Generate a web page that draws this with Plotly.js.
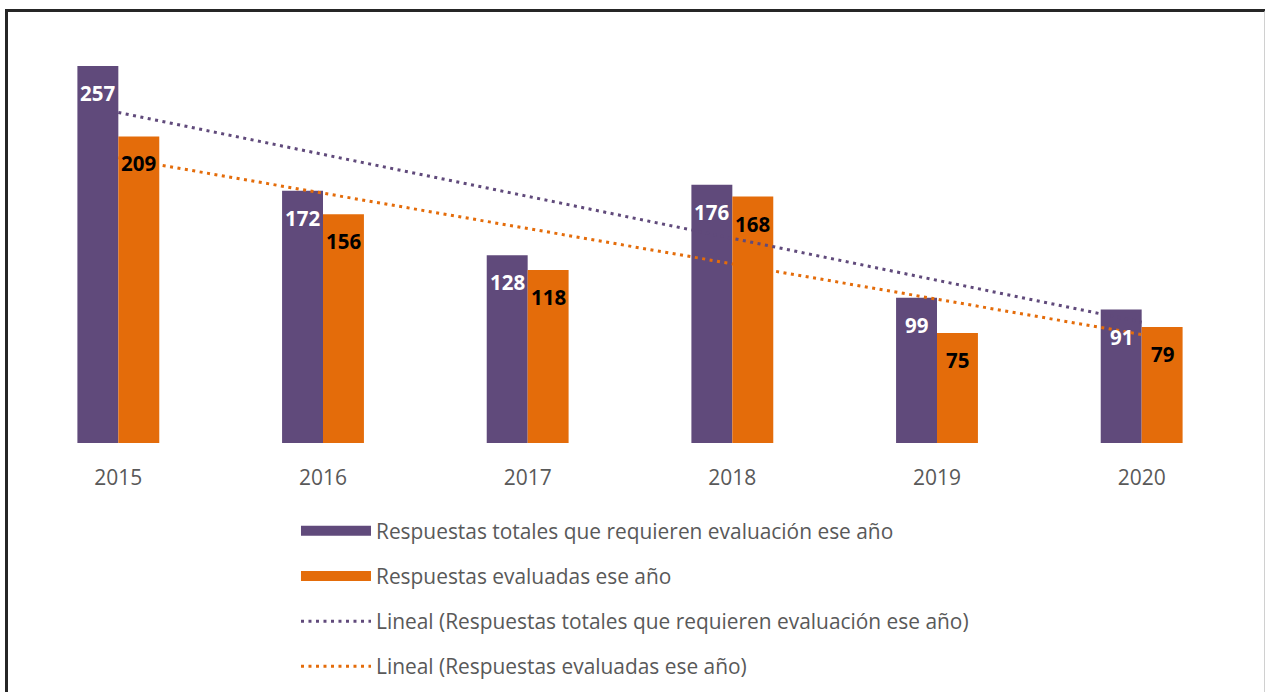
<!DOCTYPE html>
<html>
<head>
<meta charset="utf-8">
<script src="https://cdn.plot.ly/plotly-3.0.1.min.js"></script>
<style>
  html, body { margin: 0; padding: 0; background: #fff; }
  #chart { position: absolute; left: 0; top: 0; width: 1265px; height: 692px; }
  #frame { position: absolute; left: 5px; top: 9px; width: 1256px; height: 700px;
           border-left: 3px solid #262626; border-top: 3px solid #262626;
           border-right: 2px solid #d0d0d0; pointer-events: none; }
</style>
</head>
<body>
<div id="chart"></div>
<div id="frame"></div>
<script>
// ---- data ----
const years = ['2015', '2016', '2017', '2018', '2019', '2020'];
const totales = [257, 172, 128, 176, 99, 91];
const evaluadas = [209, 156, 118, 168, 75, 79];
const nameTotales = 'Respuestas totales que requieren evaluación ese año';
const nameEvaluadas = 'Respuestas evaluadas ese año';

// ---- styles ----
const PURPLE = '#604A7B';
const ORANGE = '#E46C0A';
const FONT = 'Open Sans, sans-serif';

// linear least-squares trendline (as Excel's "Lineal" trendline)
function linearFit(vals) {
  const n = vals.length;
  const xs = vals.map((_, i) => i + 1);
  const mx = xs.reduce((a, b) => a + b, 0) / n;
  const my = vals.reduce((a, b) => a + b, 0) / n;
  let sxy = 0, sxx = 0;
  for (let i = 0; i < n; i++) { sxy += (xs[i] - mx) * (vals[i] - my); sxx += (xs[i] - mx) ** 2; }
  const b = sxy / sxx, a = my - b * mx;
  return xs.map(x => a + b * x);
}

const traces = [
  { type: 'bar', x: years, y: totales, name: nameTotales, marker: { color: PURPLE },
    offset: -0.2, width: 0.2, showlegend: false, legendgroup: 'a', zorder: 0, hoverinfo: 'x+y' },
  { type: 'scatter', mode: 'lines', x: years, y: linearFit(evaluadas), showlegend: false, legendgroup: 'd',
    line: { color: ORANGE, width: 3, dash: '3px,4.5px' }, zorder: 1, hoverinfo: 'skip' },
  { type: 'bar', x: years, y: evaluadas, name: nameEvaluadas, marker: { color: ORANGE },
    offset: 0, width: 0.2, showlegend: false, legendgroup: 'b', zorder: 2, hoverinfo: 'x+y' },
  { type: 'scatter', mode: 'lines', x: years, y: linearFit(totales), showlegend: false, legendgroup: 'c',
    line: { color: PURPLE, width: 3, dash: '3px,4.5px' }, zorder: 3, hoverinfo: 'skip' },
  // legend entries
  { type: 'scatter', mode: 'lines', x: [years[0]], y: [null], name: nameTotales, legendgroup: 'a',
    line: { color: PURPLE, width: 12 }, hoverinfo: 'skip' },
  { type: 'scatter', mode: 'lines', x: [years[0]], y: [null], name: nameEvaluadas, legendgroup: 'b',
    line: { color: ORANGE, width: 12 }, hoverinfo: 'skip' },
  { type: 'scatter', mode: 'lines', x: [years[0]], y: [null], name: 'Lineal (' + nameTotales + ')', legendgroup: 'c',
    line: { color: PURPLE, width: 3, dash: '3px,4.5px' }, hoverinfo: 'skip' },
  { type: 'scatter', mode: 'lines', x: [years[0]], y: [null], name: 'Lineal (' + nameEvaluadas + ')', legendgroup: 'd',
    line: { color: ORANGE, width: 3, dash: '3px,4.5px' }, hoverinfo: 'skip' }
];

const annotations = [];
years.forEach((yr, i) => {
  annotations.push({ x: i, y: totales[i], xref: 'x', yref: 'y', text: '<b>' + totales[i] + '</b>',
    showarrow: false, xshift: -20.5, yshift: -27, yanchor: 'middle',
    font: { family: FONT, size: 20.5, color: '#ffffff' } });
  annotations.push({ x: i, y: evaluadas[i], xref: 'x', yref: 'y', text: '<b>' + evaluadas[i] + '</b>',
    showarrow: false, xshift: 20.5, yshift: -27, yanchor: 'middle',
    font: { family: FONT, size: 20.5, color: '#000000' } });
});

const layout = {
  width: 1265, height: 692,
  margin: { l: 16, r: 21, t: 40, b: 249, autoexpand: false },
  paper_bgcolor: '#ffffff', plot_bgcolor: '#ffffff',
  font: { family: FONT, color: '#595959' },
  xaxis: { type: 'category', categoryorder: 'array', categoryarray: years, range: [-0.5, 5.5],
    showgrid: false, zeroline: false, showline: true,
    linecolor: '#d9d9d9', linewidth: 2, ticks: '', ticklabelstandoff: 15,
    tickfont: { family: FONT, size: 21, color: '#595959' } },
  yaxis: { range: [0, 274.7], showgrid: false, zeroline: false, showline: false,
    showticklabels: false, ticks: '' },
  showlegend: true,
  legend: { x: 0.228, y: -0.168, xanchor: 'left', yanchor: 'top', orientation: 'v',
    traceorder: 'grouped', tracegroupgap: 15, itemwidth: 70,
    font: { family: FONT, size: 20.9, color: '#595959' }, bgcolor: 'rgba(0,0,0,0)' },
  annotations: annotations
};

Plotly.newPlot('chart', traces, layout, { displayModeBar: false });
</script>
</body>
</html>
